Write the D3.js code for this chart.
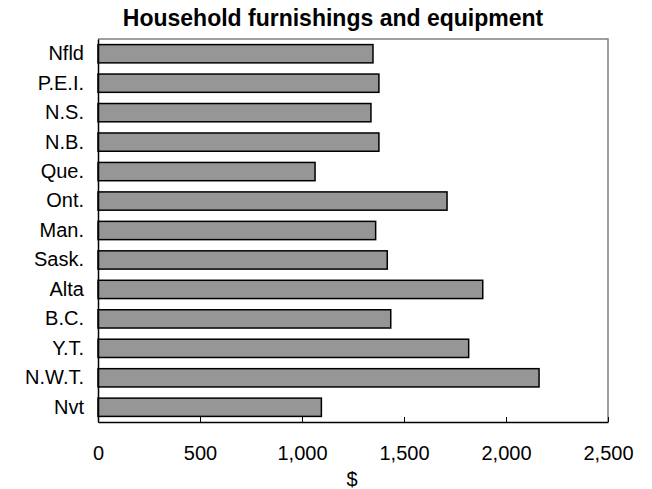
<!DOCTYPE html>
<html>
<head>
<meta charset="utf-8">
<script src="https://cdn.jsdelivr.net/npm/d3@7"></script>
<style>
  body { margin: 0; background: #fff; }
  svg { display: block; font-family: "Liberation Sans", Arial, sans-serif; }
</style>
</head>
<body>
<svg id="chart" width="652" height="489"></svg>
<script>
// Household furnishings and equipment spending by province/territory ($)
const provinces = ["Nfld", "P.E.I.", "N.S.", "N.B.", "Que.", "Ont.", "Man.", "Sask.", "Alta", "B.C.", "Y.T.", "N.W.T.", "Nvt"];
const spending  = [1348, 1377, 1338, 1377, 1064, 1711, 1361, 1418, 1886, 1435, 1817, 2162, 1095];
const xTicks    = [0, 500, 1000, 1500, 2000, 2500];
const titleText = "Household furnishings and equipment";
const xTitle    = "$";

const rows = provinces.map((p, i) => ({ name: p, value: spending[i] }));

const svg = d3.select("#chart");
const m = { left: 98, right: 608, top: 39, bottom: 422 };
const fontFam = "'Liberation Sans', Arial, sans-serif";

const x = d3.scaleLinear().domain([0, 2500]).range([m.left, m.right]);
const y = d3.scaleBand().domain(provinces).range([m.top, m.bottom]).paddingInner(0.38).paddingOuter(0.19);

// plot frame (top and right edges)
svg.append("path")
  .attr("d", `M${m.left},${m.top}H${m.right}V${m.bottom}`)
  .attr("fill", "none").attr("stroke", "#808080").attr("stroke-width", 1.5);

// bars
svg.append("g").selectAll("rect").data(rows).join("rect")
  .attr("x", x(0))
  .attr("y", d => y(d.name))
  .attr("width", d => x(d.value) - x(0))
  .attr("height", y.bandwidth())
  .attr("fill", "#969696")
  .attr("stroke", "#000")
  .attr("stroke-width", 1.5);

// x axis with inward ticks
const xAxis = d3.axisBottom(x).tickValues(xTicks).tickSizeInner(-5).tickSizeOuter(0)
  .tickPadding(22).tickFormat(d3.format(","));
const gx = svg.append("g").attr("transform", `translate(0,${m.bottom})`).call(xAxis);
gx.attr("font-size", 20).attr("font-family", fontFam);
gx.select(".domain").attr("stroke", "#000").attr("stroke-width", 1.5);
gx.selectAll(".tick line").attr("stroke", "#000");
gx.selectAll(".tick text").attr("fill", "#000").attr("dy", "0.71em").attr("y", 24);

// y axis (category labels)
const yAxis = d3.axisLeft(y).tickSize(0).tickPadding(14);
const gy = svg.append("g").attr("transform", `translate(${m.left},0)`).call(yAxis);
gy.attr("font-size", 20).attr("font-family", fontFam);
gy.select(".domain").attr("stroke", "#000").attr("stroke-width", 1.5);
gy.selectAll(".tick text").attr("fill", "#000");

// titles
svg.append("text").attr("x", 333).attr("y", 26).attr("text-anchor", "middle")
  .attr("font-size", 23).attr("font-weight", "bold").attr("font-family", fontFam).text(titleText);
svg.append("text").attr("x", 352).attr("y", 486).attr("text-anchor", "middle")
  .attr("font-size", 20).attr("font-family", fontFam).text(xTitle);
</script>
</body>
</html>
